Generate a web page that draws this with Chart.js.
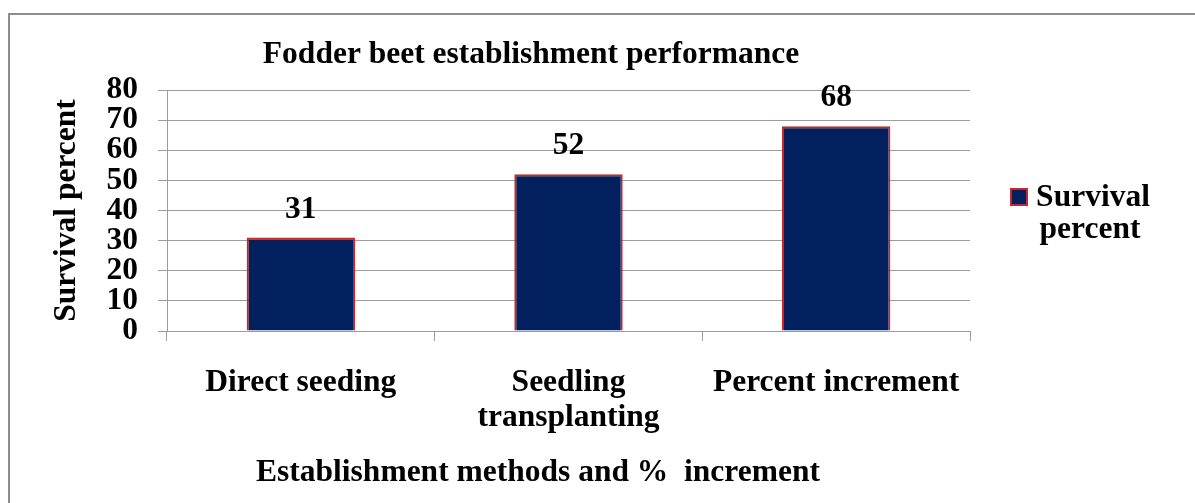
<!DOCTYPE html>
<html lang="en">
<head>
    <meta charset="UTF-8">
    <title>Fodder beet establishment performance</title>
    <script src="https://cdn.jsdelivr.net/npm/chart.js@4.4.1/dist/chart.umd.min.js"></script>
    <style>
        html, body { margin: 0; padding: 0; background: #fff; overflow: hidden; }
        .frame {
            position: absolute; left: 8px; top: 13px;
            width: 1300px; height: 600px;
            border: 2px solid #8c8c8c;
        }
        #chart { position: absolute; left: 0; top: 0; }
    </style>
</head>
<body>
    <div class="frame"></div>
    <canvas id="chart" width="1195" height="503"></canvas>
    <script>
        const categories = ['Direct seeding', ['Seedling', 'transplanting'], 'Percent increment'];
        const survival = [31, 52, 68];
        const yTicks = [0, 10, 20, 30, 40, 50, 60, 70, 80];

        const chartTitle = 'Fodder beet establishment performance';
        const xTitle = 'Establishment methods and %  increment';
        const yTitle = 'Survival percent';
        const seriesName = ['Survival', 'percent'];

        const FAMILY = "'Liberation Serif', 'Times New Roman', serif";
        const FSIZE = 31.5;
        const gridGray = '#9c9c9c';

        // titles, value labels and the two-line legend
        const extras = {
            id: 'extras',
            afterDraw(chart) {
                const ctx = chart.ctx;
                const area = chart.chartArea;
                ctx.save();
                ctx.fillStyle = '#000';
                ctx.textAlign = 'center';
                ctx.textBaseline = 'alphabetic';

                ctx.font = 'bold ' + FSIZE + 'px ' + FAMILY;
                ctx.fillText(chartTitle, area.left + 364, 63);
                ctx.fillText(xTitle, area.left + 371, 481);

                // value labels above bars
                const meta = chart.getDatasetMeta(0);
                meta.data.forEach((bar, i) => {
                    ctx.fillText(String(survival[i]), bar.x, bar.y - 20);
                });

                // legend
                const ds = chart.data.datasets[0];
                const lx = area.right + 40, ly = 188;
                ctx.fillStyle = ds.borderColor;
                ctx.fillRect(lx, ly, 18, 18);
                ctx.fillStyle = ds.backgroundColor;
                ctx.fillRect(lx + 2, ly + 2, 14, 14);
                ctx.fillStyle = '#000';
                ctx.fillText(seriesName[0], area.right + 123, 206);
                ctx.fillText(seriesName[1], area.right + 120, 238);
                ctx.restore();
            }
        };

        new Chart(document.getElementById('chart'), {
            type: 'bar',
            data: {
                labels: categories,
                datasets: [{
                    label: seriesName.join(' '),
                    data: survival,
                    backgroundColor: '#03205e',
                    borderColor: '#c8252c',
                    borderWidth: 2,
                    barPercentage: 0.405,
                    categoryPercentage: 1
                }]
            },
            options: {
                responsive: false,
                animation: false,
                layout: { padding: { left: 0, top: 90, right: 225, bottom: 0 } },
                plugins: {
                    legend: { display: false },
                    tooltip: { enabled: false }
                },
                scales: {
                    x: {
                        offset: true,
                        grid: {
                            offset: true,
                            drawOnChartArea: false,
                            drawTicks: true,
                            tickLength: 10,
                            color: gridGray
                        },
                        border: { color: gridGray },
                        ticks: {
                            color: '#000',
                            padding: 25,
                            maxRotation: 0,
                            autoSkip: false,
                            font: { family: FAMILY, size: FSIZE, weight: 'bold', lineHeight: 1.1 }
                        },
                        afterFit(scale) { scale.height = 503 - 331; }
                    },
                    y: {
                        min: 0,
                        max: 80,
                        afterBuildTicks(scale) { scale.ticks = yTicks.map(v => ({ value: v })); },
                        grid: {
                            color: gridGray,
                            drawTicks: true,
                            tickLength: 9
                        },
                        border: { color: gridGray },
                        ticks: {
                            color: '#000',
                            padding: 20,
                            autoSkip: false,
                            font: { family: FAMILY, size: FSIZE, weight: 'bold', lineHeight: 1 }
                        },
                        title: {
                            display: true,
                            text: yTitle,
                            color: '#000',
                            padding: { top: 48, bottom: 0 },
                            font: { family: FAMILY, size: FSIZE, weight: 'bold' }
                        },
                        afterFit(scale) { scale.width = 167; }
                    }
                }
            },
            plugins: [extras]
        });
    </script>
</body>
</html>
